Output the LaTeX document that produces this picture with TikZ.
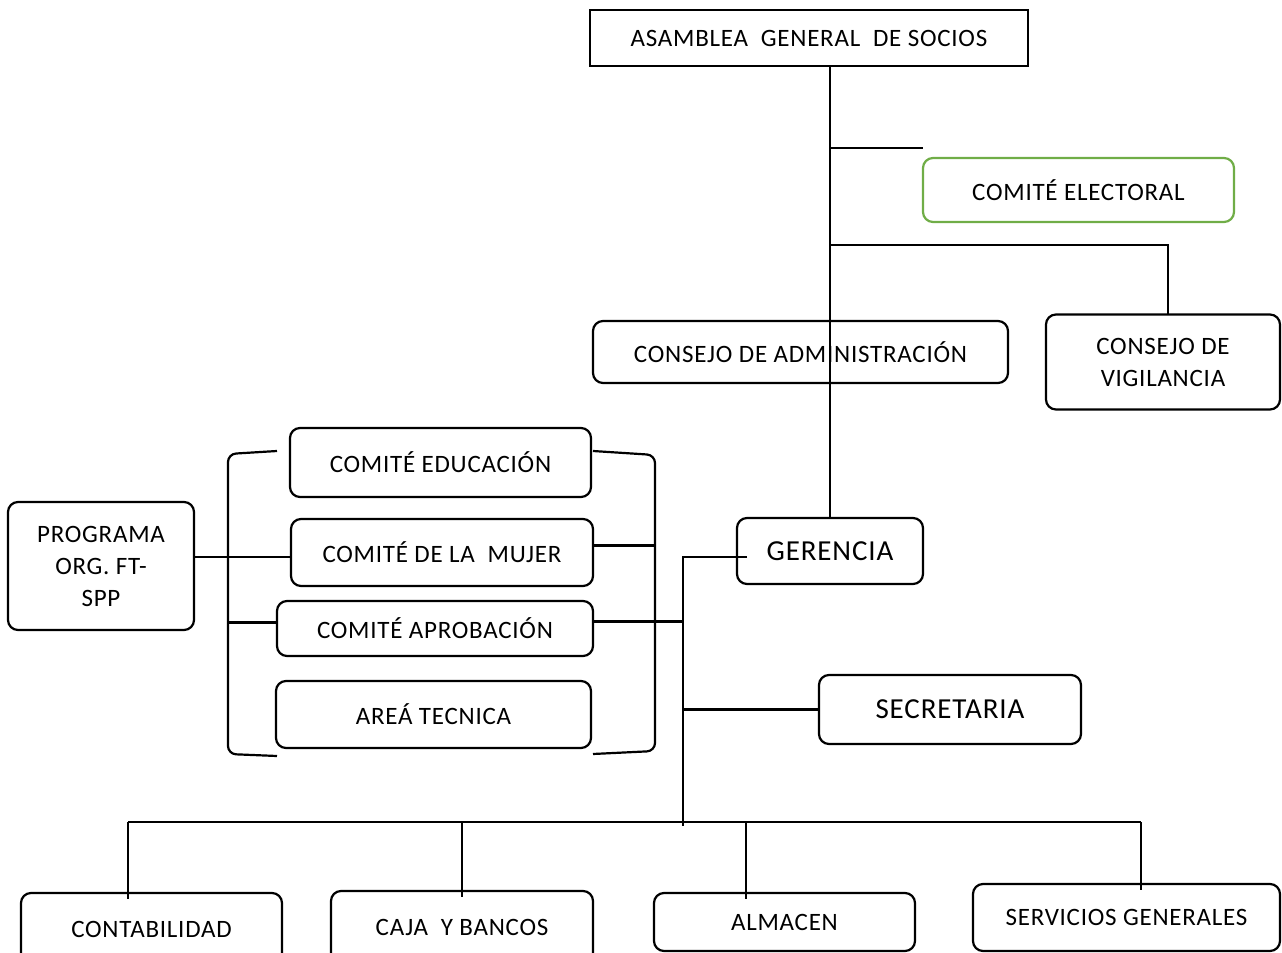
\documentclass[tikz,border=0pt]{standalone}
\usepackage{fontspec}
\setmainfont{Carlito}[LetterSpace=3]
\usepackage{tikz}
\usepackage{xcolor}
\usetikzlibrary{positioning, calc}
\definecolor{cGreen}{RGB}{112,173,71}
\tikzset{
    orgbox/.style   ={rectangle, rounded corners=5pt, draw=black, line width=1.1pt, inner sep=0pt, outer sep=0pt, align=center, font=\fontsize{12.5}{16}\selectfont},
    topbox/.style   ={orgbox, rounded corners=0pt},
    greenbox/.style ={orgbox, draw=cGreen},
    bigbox/.style   ={orgbox, font=\fontsize{14.5}{17}\selectfont},
    dims/.style 2 args={minimum width=#1, minimum height=#2},
    link/.style     ={line width=1.1pt},
}

\begin{document}
\begin{tikzpicture}[x=0.5pt, y=-0.5pt]
                \clip (0,0) rectangle (1282,953);
                % cajas
                \node[topbox, dims={219pt}{28pt}] (asamblea) at (809,38) {ASAMBLEA \ GENERAL \ DE SOCIOS};
                \node[greenbox, dims={155.5pt}{32pt}] (electoral) at (1078.5,190) {COMITÉ ELECTORAL};
                \node[orgbox, dims={207.5pt}{31pt}] (administracion) at (800.5,352) {CONSEJO DE ADMINISTRACIÓN};
                \node[orgbox, dims={117pt}{47.5pt}] (vigilancia) at (1163,362) {CONSEJO DE\\VIGILANCIA};
                \node[bigbox, dims={93pt}{33pt}] (gerencia) at (830,551) {GERENCIA};
                \node[bigbox, dims={131pt}{34.5pt}] (secretaria) at (950,709.5) {SECRETARIA};
                \node[orgbox, dims={93pt}{64pt}] (programa) at (101,566) {PROGRAMA\\ORG. FT-\\SPP};
                \node[orgbox, dims={150.5pt}{34.5pt}] (educacion) at (440.5,462.5) {COMITÉ EDUCACIÓN};
                \node[orgbox, dims={151pt}{33.5pt}] (mujer) at (442,552.5) {COMITÉ DE LA \ MUJER};
                \node[orgbox, dims={158pt}{27.5pt}] (aprobacion) at (435,628.5) {COMITÉ APROBACIÓN};
                \node[orgbox, dims={157.5pt}{33.5pt}] (tecnica) at (433.5,714.5) {AREÁ TECNICA};
                \node[orgbox, dims={130.5pt}{36pt}] (contab) at (151.5,929) {CONTABILIDAD};
                \node[orgbox, dims={131pt}{36pt}] (caja) at (462,927) {CAJA \ Y BANCOS};
                \node[orgbox, dims={130.5pt}{29pt}] (almacen) at (784.5,922) {ALMACEN};
                \node[orgbox, dims={153.5pt}{33.5pt}] (servicios) at (1126.5,917.5) {SERVICIOS GENERALES};

                % lineas
                \coordinate (eb) at (829,148);
                \coordinate (vb) at (829,245);
                \coordinate (gb) at (683,557);
                \coordinate (tend) at (683,826);
                \coordinate (busL) at (128,822);
                \coordinate (busR) at (1141,822);
                \coordinate (lb) at (228,0);
                \coordinate (rb) at (655,0);
                \draw[link] (asamblea.south -| gerencia.north) -- (gerencia.north);
                \draw[link] (eb) -- (eb -| electoral.west);
                \draw[link] (vb) -| ([xshift=2.5pt]vigilancia.north);
                \draw[link] ([xshift=5pt]gerencia.west |- gb) -- (gb) -- (tend);
                \draw[link] (secretaria.west) -- (secretaria.west -| gb);
                \draw[link] ([yshift=3.5pt]aprobacion.east) -- ([yshift=3.5pt]aprobacion.east -| gb);
                \draw[link] ([yshift=3.5pt]mujer.east) -- ([yshift=3.5pt]mujer.east -| rb);
                \draw[link] ([yshift=4.5pt]programa.east) -- ([yshift=4.5pt]mujer.west |- programa.east);
                \draw[link] ([yshift=3pt]lb |- aprobacion.west) -- ([yshift=3pt]aprobacion.west);
                \draw[link] (busL) -- (busR);
                \foreach \x/\n in {128/contab, 462/caja, 746/almacen, 1141/servicios}{
                    \coordinate (d) at (\x,822);
                    \draw[link] (d) -- ([yshift=-3pt]d |- \n.north);
                }

                % llaves
                \draw[link, rounded corners=4pt] (277,451) -- (228,454) -- (228,754) -- (277,756);
                \draw[link, rounded corners=4pt] (593,451) -- (655,455) -- (655,751) -- (593,754);
            \end{tikzpicture}
\end{document}
